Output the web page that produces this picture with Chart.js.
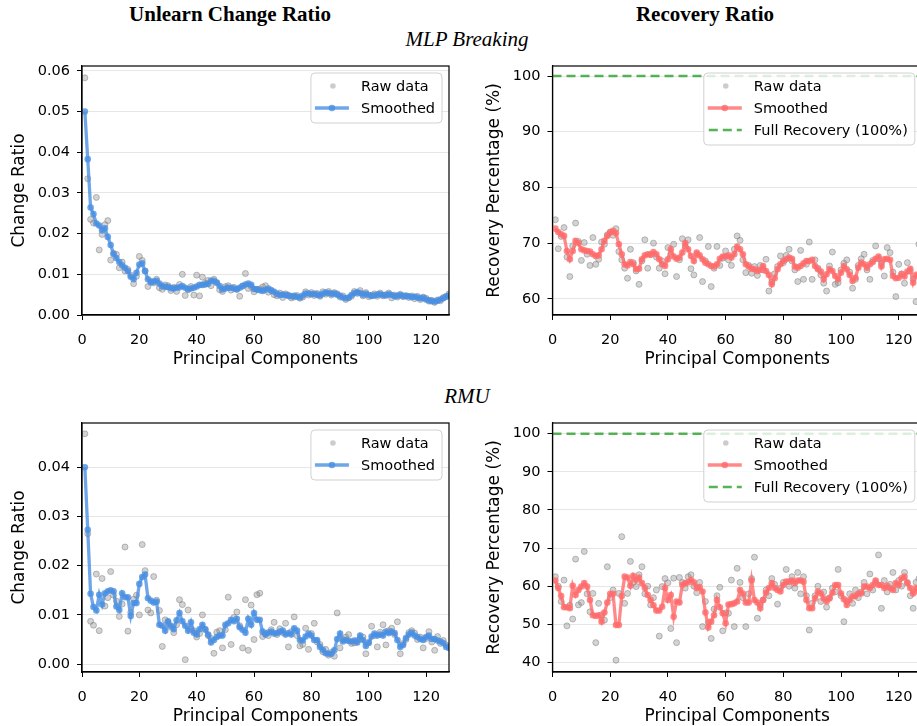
<!DOCTYPE html>
<html>
<head>
<meta charset="utf-8">
<script src="https://cdn.jsdelivr.net/npm/chart.js@4.4.1/dist/chart.umd.min.js"></script>
<style>
  body { margin: 0; background: #fff; width: 917px; height: 726px; overflow: hidden; position: relative; }
  canvas { position: absolute; }
  .t { position: absolute; font-family: 'Liberation Serif', 'Times New Roman', serif; font-size: 21px; line-height: 24px; white-space: nowrap; transform: translateX(-50%); color: #000; }
</style>
</head>
<body>
<div class="t" style="left:230px;top:2px;font-weight:bold">Unlearn Change Ratio</div>
<div class="t" style="left:705px;top:2px;font-weight:bold">Recovery Ratio</div>
<div class="t" style="left:467px;top:27px;font-style:italic">MLP Breaking</div>
<div class="t" style="left:467px;top:384px;font-style:italic">RMU</div>

<canvas id="mlpRatio" width="460" height="330" style="left:0;top:50px"></canvas>
<canvas id="mlpRecovery" width="460" height="330" style="left:470px;top:50px"></canvas>
<canvas id="rmuRatio" width="460" height="330" style="left:0;top:407px"></canvas>
<canvas id="rmuRecovery" width="460" height="330" style="left:470px;top:407px"></canvas>

<script>
// principal component index 1..128
const components = Array.from({ length: 128 }, (_, i) => i + 1);
const xTicks = [0, 20, 40, 60, 80, 100, 120];
const ratioTicksMlp = [0, 0.01, 0.02, 0.03, 0.04, 0.05, 0.06];
const ratioTicksRmu = [0, 0.01, 0.02, 0.03, 0.04];
const recoveryTicksMlp = [60, 70, 80, 90, 100];
const recoveryTicksRmu = [40, 50, 60, 70, 80, 90, 100];
const fullRecoveryX = [0, 128];
const fullRecoveryY = [100, 100];

// MLP Breaking - change ratio
const mlpRatioRaw = [
  0.0583, 0.0335, 0.0235, 0.0226, 0.0289, 0.0160, 0.0198, 0.0222, 0.0232, 0.0135,
  0.0152, 0.0149, 0.0116, 0.0130, 0.0108, 0.0112, 0.0098, 0.0077, 0.0095, 0.0144,
  0.0134, 0.0108, 0.0070, 0.0083, 0.0079, 0.0088, 0.0067, 0.0063, 0.0074, 0.0072,
  0.0060, 0.0068, 0.0058, 0.0075, 0.0100, 0.0048, 0.0062, 0.0070, 0.0049, 0.0098,
  0.0047, 0.0093, 0.0078, 0.0085, 0.0072, 0.0088, 0.0079, 0.0062, 0.0058, 0.0070,
  0.0072, 0.0061, 0.0068, 0.0063, 0.0046, 0.0071, 0.0102, 0.0065, 0.0070, 0.0057,
  0.0063, 0.0064, 0.0069, 0.0072, 0.0056, 0.0061, 0.0050, 0.0047, 0.0054, 0.0043,
  0.0052, 0.0049, 0.0042, 0.0044, 0.0048, 0.0041, 0.0044, 0.0057, 0.0049, 0.0055,
  0.0048, 0.0053, 0.0046, 0.0057, 0.0051, 0.0058, 0.0049, 0.0055, 0.0052, 0.0044,
  0.0047, 0.0038, 0.0042, 0.0046, 0.0058, 0.0053, 0.0060, 0.0047, 0.0055, 0.0045,
  0.0048, 0.0052, 0.0046, 0.0054, 0.0047, 0.0050, 0.0054, 0.0042, 0.0049, 0.0044,
  0.0051, 0.0045, 0.0048, 0.0043, 0.0047, 0.0040, 0.0046, 0.0038, 0.0044, 0.0041,
  0.0034, 0.0036, 0.0031, 0.0037, 0.0035, 0.0043, 0.0046, 0.0052
];
const mlpRatioSmooth = [
  0.0500, 0.0383, 0.0264, 0.0248, 0.0225, 0.0220, 0.0208, 0.0213, 0.0192, 0.0172,
  0.0150, 0.0140, 0.0130, 0.0122, 0.0116, 0.0108, 0.0094, 0.0088, 0.0104, 0.0124,
  0.0127, 0.0108, 0.0088, 0.0080, 0.0082, 0.0084, 0.0077, 0.0071, 0.0069, 0.0069,
  0.0066, 0.0065, 0.0067, 0.0068, 0.0071, 0.0067, 0.0063, 0.0065, 0.0067, 0.0070,
  0.0074, 0.0074, 0.0075, 0.0077, 0.0084, 0.0084, 0.0080, 0.0071, 0.0063, 0.0065,
  0.0067, 0.0067, 0.0065, 0.0063, 0.0067, 0.0071, 0.0075, 0.0077, 0.0074, 0.0064,
  0.0063, 0.0061, 0.0059, 0.0062, 0.0065, 0.0060, 0.0057, 0.0052, 0.0049, 0.0050,
  0.0049, 0.0047, 0.0046, 0.0047, 0.0045, 0.0043, 0.0048, 0.0053, 0.0053, 0.0051,
  0.0052, 0.0050, 0.0048, 0.0052, 0.0055, 0.0054, 0.0052, 0.0053, 0.0050, 0.0047,
  0.0043, 0.0041, 0.0043, 0.0049, 0.0054, 0.0056, 0.0054, 0.0050, 0.0052, 0.0049,
  0.0047, 0.0048, 0.0050, 0.0051, 0.0049, 0.0048, 0.0051, 0.0049, 0.0046, 0.0047,
  0.0049, 0.0047, 0.0046, 0.0046, 0.0044, 0.0045, 0.0043, 0.0041, 0.0042, 0.0038,
  0.0036, 0.0034, 0.0033, 0.0035, 0.0038, 0.0041, 0.0045, 0.0048
];

// MLP Breaking - recovery percentage
const mlpRecoveryRaw = [
  74.2, 69.0, 71.2, 72.8, 67.5, 64.0, 69.5, 73.6, 70.3, 66.9,
  70.1, 68.0, 66.0, 71.0, 66.2, 67.1, 70.2, 69.8, 71.5, 72.0,
  71.4, 72.6, 68.5, 67.0, 65.5, 63.7, 68.9, 66.5, 65.0, 62.6,
  66.8, 70.6, 65.5, 68.0, 70.0, 67.5, 65.5, 66.8, 64.5, 69.2,
  68.0, 69.8, 64.0, 67.0, 70.8, 69.5, 70.6, 65.4, 64.3, 68.0,
  71.0, 63.1, 66.8, 69.4, 62.2, 65.5, 69.4, 66.0, 67.3, 68.6,
  67.0, 66.0, 68.9, 71.3, 70.5, 67.0, 64.7, 66.0, 64.6, 65.8,
  64.2, 66.0, 65.2, 67.1, 61.4, 63.0, 64.5, 65.8, 67.7, 66.5,
  67.8, 68.9, 66.8, 65.2, 63.1, 68.7, 63.5, 66.2, 70.2, 63.5,
  67.0, 65.5, 64.3, 62.8, 61.4, 65.9, 68.4, 62.6, 62.9, 65.2,
  66.4, 67.0, 64.8, 61.9, 63.5, 66.0, 67.2, 68.0, 65.2, 63.5,
  66.9, 69.5, 67.2, 66.3, 64.1, 69.2, 68.3, 64.8, 60.4, 66.2,
  64.5, 62.8, 66.5, 65.0, 63.5, 59.5, 69.8, 64.2
];
const mlpRecoverySmooth = [
  72.6, 72.0, 71.6, 71.3, 68.6, 67.1, 68.6, 70.4, 70.0, 68.9,
  68.7, 68.6, 68.5, 68.0, 67.7, 67.8, 68.9, 70.4, 71.3, 71.9,
  72.2, 71.8, 69.8, 68.0, 66.2, 66.0, 66.6, 66.2, 65.3, 65.4,
  67.1, 67.8, 68.0, 67.9, 68.4, 68.0, 67.1, 66.2, 65.9, 67.1,
  68.9, 67.6, 67.2, 67.4, 68.3, 70.0, 68.9, 67.7, 66.8, 68.3,
  67.8, 67.1, 66.5, 66.2, 65.9, 65.8, 66.2, 67.2, 67.6, 67.6,
  67.8, 67.4, 68.0, 69.4, 68.9, 68.0, 66.2, 65.8, 65.4, 65.3,
  65.0, 65.2, 65.9, 65.0, 64.3, 62.6, 63.7, 65.3, 66.2, 66.8,
  67.1, 67.4, 67.2, 65.8, 65.6, 65.9, 66.4, 66.8, 66.8, 67.0,
  65.9, 65.3, 64.9, 63.5, 64.4, 65.3, 65.0, 64.1, 63.5, 64.7,
  65.9, 65.3, 64.3, 63.2, 63.8, 65.6, 66.5, 66.2, 65.6, 66.2,
  66.6, 67.2, 67.6, 65.8, 67.1, 67.2, 67.0, 64.1, 63.7, 63.8,
  64.4, 64.0, 64.9, 65.4, 62.9, 64.3, 64.0, 63.6
];

// RMU - change ratio
const rmuRatioRaw = [
  0.0468, 0.0265, 0.0087, 0.0079, 0.0183, 0.0068, 0.0174, 0.0118, 0.0135, 0.0188,
  0.0140, 0.0128, 0.0097, 0.0122, 0.0238, 0.0067, 0.0105, 0.0132, 0.0140, 0.0100,
  0.0243, 0.0190, 0.0110, 0.0104, 0.0178, 0.0130, 0.0109, 0.0036, 0.0090, 0.0085,
  0.0075, 0.0064, 0.0080, 0.0131, 0.0121, 0.0009, 0.0110, 0.0072, 0.0068, 0.0055,
  0.0062, 0.0100, 0.0070, 0.0058, 0.0052, 0.0022, 0.0065, 0.0068, 0.0033, 0.0070,
  0.0136, 0.0040, 0.0095, 0.0106, 0.0078, 0.0033, 0.0131, 0.0028, 0.0120, 0.0050,
  0.0141, 0.0144, 0.0056, 0.0062, 0.0058, 0.0070, 0.0085, 0.0060, 0.0072, 0.0064,
  0.0083, 0.0035, 0.0066, 0.0096, 0.0058, 0.0037, 0.0040, 0.0073, 0.0030, 0.0062,
  0.0083, 0.0045, 0.0040, 0.0025, 0.0030, 0.0018, 0.0024, 0.0016, 0.0104, 0.0033,
  0.0050, 0.0055, 0.0060, 0.0042, 0.0043, 0.0048, 0.0052, 0.0055, 0.0021, 0.0045,
  0.0077, 0.0058, 0.0035, 0.0065, 0.0080, 0.0039, 0.0068, 0.0073, 0.0060, 0.0086,
  0.0021, 0.0042, 0.0050, 0.0064, 0.0068, 0.0063, 0.0050, 0.0055, 0.0033, 0.0052,
  0.0066, 0.0045, 0.0028, 0.0056, 0.0042, 0.0048, 0.0039, 0.0036
];
const rmuRatioSmooth = [
  0.0400, 0.0273, 0.0143, 0.0116, 0.0109, 0.0141, 0.0121, 0.0144, 0.0148, 0.0150,
  0.0148, 0.0117, 0.0110, 0.0144, 0.0136, 0.0136, 0.0098, 0.0124, 0.0124, 0.0163,
  0.0177, 0.0182, 0.0134, 0.0129, 0.0125, 0.0127, 0.0080, 0.0078, 0.0068, 0.0087,
  0.0078, 0.0071, 0.0089, 0.0104, 0.0087, 0.0078, 0.0068, 0.0085, 0.0064, 0.0060,
  0.0071, 0.0080, 0.0071, 0.0060, 0.0044, 0.0049, 0.0055, 0.0058, 0.0058, 0.0080,
  0.0083, 0.0090, 0.0087, 0.0092, 0.0075, 0.0070, 0.0064, 0.0092, 0.0080, 0.0104,
  0.0090, 0.0090, 0.0066, 0.0060, 0.0064, 0.0066, 0.0062, 0.0063, 0.0066, 0.0068,
  0.0060, 0.0063, 0.0060, 0.0073, 0.0068, 0.0049, 0.0048, 0.0056, 0.0062, 0.0058,
  0.0049, 0.0049, 0.0035, 0.0029, 0.0022, 0.0021, 0.0021, 0.0028, 0.0051, 0.0062,
  0.0046, 0.0049, 0.0047, 0.0046, 0.0048, 0.0044, 0.0058, 0.0049, 0.0037, 0.0043,
  0.0056, 0.0062, 0.0058, 0.0060, 0.0058, 0.0066, 0.0063, 0.0066, 0.0063, 0.0049,
  0.0035, 0.0039, 0.0053, 0.0060, 0.0064, 0.0058, 0.0055, 0.0051, 0.0049, 0.0055,
  0.0058, 0.0051, 0.0051, 0.0048, 0.0046, 0.0043, 0.0035, 0.0033
];

// RMU - recovery percentage
const rmuRecoveryRaw = [
  62.5, 60.0, 56.0, 61.6, 49.6, 55.0, 51.4, 67.1, 55.1, 55.7,
  69.1, 58.0, 53.3, 58.1, 45.2, 55.5, 52.5, 51.1, 65.1, 57.0,
  59.0, 40.6, 58.1, 73.0, 55.5, 58.1, 66.5, 61.0, 59.9, 63.0,
  65.1, 58.0, 60.0, 55.1, 57.0, 59.0, 46.9, 59.9, 62.0, 60.9,
  48.9, 62.1, 45.2, 62.3, 61.0, 59.5, 62.5, 63.0, 60.0, 58.3,
  61.0, 49.4, 56.0, 50.5, 46.3, 54.0, 57.5, 59.7, 48.3, 53.0,
  52.9, 61.6, 49.4, 64.7, 61.0, 57.0, 49.4, 58.0, 62.0, 67.6,
  51.6, 55.0, 56.4, 59.0, 57.5, 62.0, 60.5, 55.3, 59.5, 61.0,
  64.4, 60.0, 62.5, 59.5, 63.6, 58.0, 62.5, 57.5, 48.5, 55.5,
  57.5, 60.0, 56.0, 58.5, 54.5, 57.0, 59.5, 58.5, 64.4, 57.5,
  50.7, 56.0, 58.0, 55.5, 59.0, 57.0, 58.5, 61.0, 58.0, 63.2,
  59.0, 61.0, 68.2, 54.2, 61.5, 58.5, 60.5, 63.6, 59.0, 61.5,
  60.0, 63.6, 61.0, 57.5, 54.2, 61.0, 62.0, 57.5
];
const rmuRecoverySmooth = [
  61.5, 59.5, 57.4, 54.5, 54.5, 54.2, 60.1, 57.7, 59.0, 59.9,
  60.8, 59.9, 56.4, 52.4, 52.2, 52.4, 50.7, 53.1, 55.7, 58.0,
  58.0, 49.8, 49.8, 57.4, 62.5, 62.3, 60.1, 62.7, 61.6, 62.3,
  60.8, 59.5, 57.7, 56.4, 55.0, 53.6, 53.6, 54.6, 59.5, 56.4,
  57.7, 52.0, 56.0, 55.7, 60.4, 60.8, 61.0, 61.7, 61.0, 59.5,
  59.8, 58.6, 53.1, 49.2, 50.7, 52.4, 56.4, 54.5, 52.9, 50.3,
  55.2, 55.3, 55.5, 56.0, 59.0, 58.1, 55.7, 55.7, 61.5, 56.4,
  55.7, 54.2, 56.4, 58.3, 59.5, 60.8, 59.5, 59.0, 58.6, 60.3,
  61.2, 61.2, 61.5, 60.8, 61.5, 61.5, 61.2, 56.4, 54.2, 54.2,
  56.8, 58.6, 58.1, 56.8, 56.0, 56.8, 58.3, 60.3, 60.3, 58.1,
  56.6, 55.1, 56.4, 57.3, 57.4, 58.1, 58.1, 59.9, 59.9, 59.5,
  60.3, 61.5, 60.3, 60.3, 59.5, 60.1, 59.5, 59.0, 60.8, 60.3,
  62.1, 62.5, 60.8, 59.5, 58.1, 59.5, 58.5, 58.8
];

Chart.defaults.font.family = "'DejaVu Sans', sans-serif";
Chart.defaults.color = '#000';

const BLUE = 'rgba(74, 144, 226, 0.8)';
const RED = 'rgba(255, 107, 107, 0.8)';
const GREEN = 'rgba(44, 160, 44, 0.8)';

const pts = ys => ys.map((y, i) => ({ x: components[i], y: y }));

function drawLegend(chart, items) {
  const { ctx, chartArea: a } = chart;
  ctx.save();
  ctx.font = "14.5px 'DejaVu Sans'";
  const tw = Math.max(...items.map(it => ctx.measureText(it.label).width));
  const w = 50 + tw + 7, h = 22 * items.length + 6;
  const x0 = a.right - 7 - w, y0 = a.top + 7;
  ctx.beginPath();
  ctx.roundRect(x0, y0, w, h, 4);
  ctx.fillStyle = 'rgba(255,255,255,0.8)';
  ctx.fill();
  ctx.strokeStyle = 'rgba(204,204,204,0.9)';
  ctx.lineWidth = 1;
  ctx.stroke();
  items.forEach((it, i) => {
    const y = y0 + 13 + 22 * i;
    if (it.kind === 'dot') {
      ctx.beginPath();
      ctx.arc(x0 + 22, y, 2.8, 0, Math.PI * 2);
      ctx.fillStyle = 'rgba(128,128,128,0.4)';
      ctx.fill();
    } else if (it.kind === 'line') {
      ctx.beginPath();
      ctx.moveTo(x0 + 4, y); ctx.lineTo(x0 + 38, y);
      ctx.strokeStyle = it.color; ctx.lineWidth = 3.3;
      ctx.stroke();
      ctx.beginPath();
      ctx.arc(x0 + 21, y, 3.3, 0, Math.PI * 2);
      ctx.fillStyle = it.color;
      ctx.fill();
    } else {
      ctx.beginPath();
      ctx.setLineDash([9, 5]);
      ctx.moveTo(x0 + 5, y); ctx.lineTo(x0 + 38, y);
      ctx.strokeStyle = it.color; ctx.lineWidth = 2.5;
      ctx.stroke();
      ctx.setLineDash([]);
    }
    ctx.fillStyle = '#000';
    ctx.textBaseline = 'middle';
    ctx.fillText(it.label, x0 + 50, y + 1);
  });
  ctx.restore();
}

// top/right spines + matplotlib style legend
const framePlugin = {
  id: 'frame',
  afterDraw(chart, args, opts) {
    const { ctx, chartArea: a } = chart;
    ctx.save();
    ctx.strokeStyle = '#000';
    ctx.lineWidth = 1.2;
    ctx.strokeRect(a.left, a.top, a.right - a.left, a.bottom - a.top);
    ctx.restore();
    drawLegend(chart, opts.items);
  }
};

function panel(id, cfg) {
  const datasets = [
    {
      label: 'Smoothed', data: pts(cfg.smooth), showLine: true,
      borderColor: cfg.color, backgroundColor: cfg.color, borderWidth: 3.3,
      pointRadius: 3.3, pointBorderWidth: 0, pointBackgroundColor: cfg.color, order: 1
    },
    {
      label: 'Raw data', data: pts(cfg.raw), showLine: false,
      pointRadius: 3, pointBackgroundColor: 'rgba(128,128,128,0.35)',
      pointBorderColor: 'rgba(128,128,128,0.5)', pointBorderWidth: 1, order: 2
    }
  ];
  const items = [
    { label: 'Raw data', kind: 'dot' },
    { label: 'Smoothed', kind: 'line', color: cfg.color }
  ];
  if (cfg.full) {
    datasets.push({
      label: 'Full Recovery (100%)',
      data: fullRecoveryX.map((x, i) => ({ x: x, y: fullRecoveryY[i] })),
      showLine: true, borderColor: GREEN, borderWidth: 2.5, borderDash: [9, 5],
      pointRadius: 0, order: 0
    });
    items.push({ label: 'Full Recovery (100%)', kind: 'dash', color: GREEN });
  }

  new Chart(document.getElementById(id), {
    type: 'scatter',
    data: { datasets: datasets },
    options: {
      responsive: false,
      animation: false,
      events: [],
      layout: { padding: { left: 0, top: 16, right: cfg.padRight, bottom: 0 } },
      plugins: { legend: { display: false }, tooltip: { enabled: false }, frame: { items: items } },
      scales: {
        x: {
          type: 'linear', min: 0, max: 128,
          afterBuildTicks: s => { s.ticks = xTicks.map(v => ({ value: v })); },
          afterFit: s => { s.height = 65; },
          grid: { drawOnChartArea: false, drawTicks: true, tickLength: 5, tickColor: '#000', tickWidth: 1 },
          border: { display: true, color: '#000', width: 1.2 },
          ticks: { padding: 12, font: { size: 14.5 }, maxRotation: 0, autoSkip: false },
          title: { display: true, text: 'Principal Components', font: { size: 17 }, padding: { top: 0, bottom: 10 } }
        },
        y: {
          type: 'linear', min: cfg.yMin, max: cfg.yMax,
          afterBuildTicks: s => { s.ticks = cfg.yTicks.map(v => ({ value: v })); },
          afterFit: s => { s.width = cfg.yWidth; },
          grid: { color: '#e6e6e6', lineWidth: 1, tickColor: '#000', tickLength: 5, tickWidth: 1 },
          border: { display: true, color: '#000', width: 1.2 },
          ticks: { padding: 7, font: { size: 14.5 }, callback: v => cfg.fmt(v) },
          title: { display: true, text: cfg.yTitle, font: { size: 17 }, padding: { top: cfg.titlePad, bottom: 0 } }
        }
      }
    },
    plugins: [framePlugin]
  });
}

panel('mlpRatio', {
  raw: mlpRatioRaw, smooth: mlpRatioSmooth, color: BLUE, full: false,
  yMin: 0, yMax: 0.0612, yTicks: ratioTicksMlp, fmt: v => v.toFixed(2),
  yTitle: 'Change Ratio', yWidth: 82, titlePad: 9, padRight: 11
});
panel('mlpRecovery', {
  raw: mlpRecoveryRaw, smooth: mlpRecoverySmooth, color: RED, full: true,
  yMin: 57.1, yMax: 101.8, yTicks: recoveryTicksMlp, fmt: v => String(v),
  yTitle: 'Recovery Percentage (%)', yWidth: 82.5, titlePad: 14.5, padRight: 8.2
});
panel('rmuRatio', {
  raw: rmuRatioRaw, smooth: rmuRatioSmooth, color: BLUE, full: false,
  yMin: -0.0016, yMax: 0.049, yTicks: ratioTicksRmu, fmt: v => v.toFixed(2),
  yTitle: 'Change Ratio', yWidth: 82, titlePad: 9, padRight: 11
});
panel('rmuRecovery', {
  raw: rmuRecoveryRaw, smooth: rmuRecoverySmooth, color: RED, full: true,
  yMin: 37.5, yMax: 102.8, yTicks: recoveryTicksRmu, fmt: v => String(v),
  yTitle: 'Recovery Percentage (%)', yWidth: 82.5, titlePad: 14.5, padRight: 8.2
});
</script>
</body>
</html>
